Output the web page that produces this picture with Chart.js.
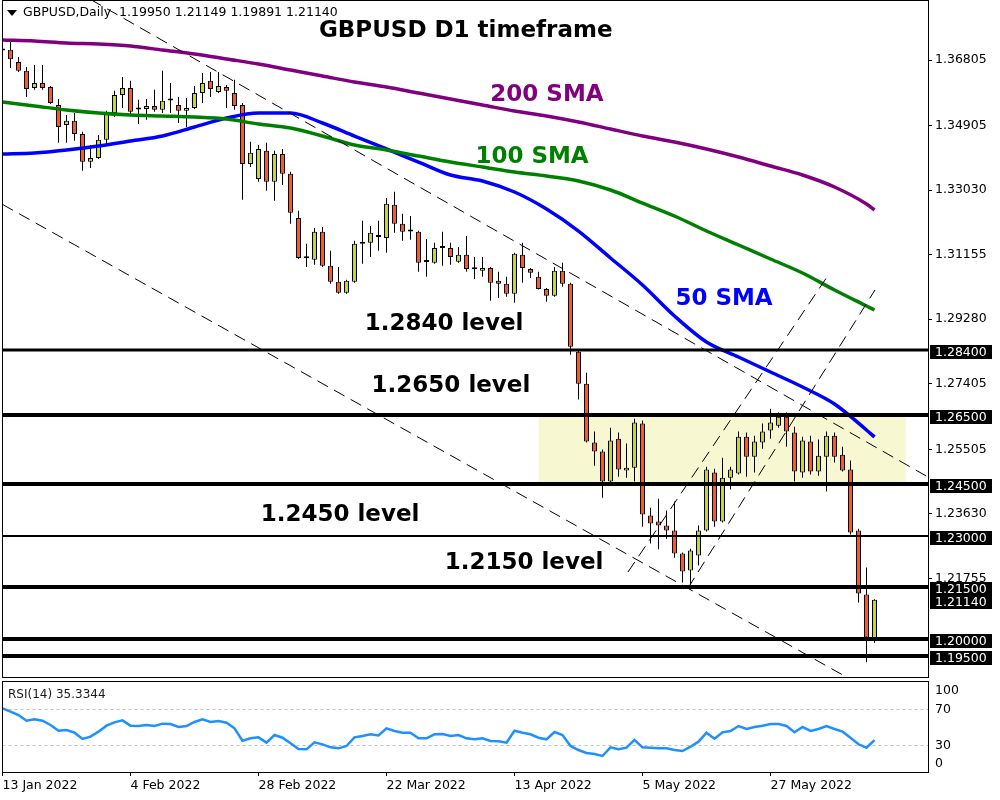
<!DOCTYPE html>
<html>
<head>
<meta charset="utf-8">
<script src="https://cdn.jsdelivr.net/npm/chart.js@4.4.1/dist/chart.umd.min.js"></script>
<style>
  html, body { margin: 0; padding: 0; background: #fff; }
  #wrap { position: relative; width: 1000px; height: 800px; background: #fff; }
  #main { position: absolute; left: 0; top: 0; }
  #rsi { position: absolute; left: 0; top: 680px; }
</style>
</head>
<body>
<div id="wrap">
  <canvas id="main" width="1000" height="680"></canvas>
  <canvas id="rsi" width="1000" height="120"></canvas>
</div>
<script>
// daily GBPUSD candles, bar 0 = 13 Jan 2022
var open = [
  1.3712,1.3710,1.3675,1.3649,1.3599,1.3614,1.3602,1.3550,1.3492,1.3504,
  1.3466,1.3385,1.3396,1.3449,1.3527,1.3579,1.3599,1.3538,1.3538,1.3547,
  1.3536,1.3565,1.3550,1.3533,1.3541,1.3585,1.3620,1.3588,1.3602,1.3585,
  1.3550,1.3379,1.3335,1.3417,1.3327,1.3408,1.3350,1.3222,1.3106,1.3101,
  1.3182,1.3083,1.3037,1.3005,1.3037,1.3147,1.3150,1.3167,1.3164,1.3260,
  1.3205,1.3185,1.3182,1.3095,1.3092,1.3135,1.3135,1.3095,1.3115,1.3074,
  1.3069,1.3077,1.3040,1.3031,1.3002,1.3115,1.3074,1.3051,1.3016,1.2996,
  1.3069,1.3031,1.2834,1.2741,1.2570,1.2544,1.2457,1.2581,1.2489,1.2497,
  1.2625,1.2358,1.2341,1.2329,1.2315,1.2248,1.2199,1.2242,1.2315,1.2483,
  1.2341,1.2468,1.2480,1.2587,1.2529,1.2570,1.2605,1.2619,1.2645,1.2599,
  1.2483,1.2573,1.2486,1.2529,1.2590,1.2535,1.2492,1.2315,1.2129,1.19950
];
var high = [
  1.3738,1.3739,1.3689,1.3660,1.3666,1.3666,1.3605,1.3567,1.3521,1.3527,
  1.3472,1.3434,1.3463,1.3533,1.3591,1.3631,1.3620,1.3565,1.3567,1.3594,
  1.3649,1.3614,1.3573,1.3570,1.3605,1.3643,1.3646,1.3646,1.3608,1.3623,
  1.3556,1.3443,1.3434,1.3440,1.3417,1.3422,1.3356,1.3243,1.3147,1.3193,
  1.3196,1.3127,1.3080,1.3043,1.3156,1.3214,1.3199,1.3214,1.3280,1.3298,
  1.3234,1.3228,1.3185,1.3161,1.3150,1.3182,1.3150,1.3138,1.3170,1.3109,
  1.3109,1.3080,1.3066,1.3051,1.3121,1.3150,1.3077,1.3066,1.3019,1.3080,
  1.3092,1.3034,1.2840,1.2773,1.2602,1.2550,1.2613,1.2599,1.2567,1.2639,
  1.2634,1.2381,1.2407,1.2373,1.2399,1.2251,1.2262,1.2329,1.2500,1.2494,
  1.2526,1.2500,1.2602,1.2599,1.2590,1.2625,1.2668,1.2657,1.2657,1.2616,
  1.2587,1.2590,1.2579,1.2602,1.2599,1.2558,1.2518,1.2320,1.2207,1.21149
];
var low = [
  1.3698,1.3657,1.3646,1.3573,1.3594,1.3594,1.3553,1.3440,1.3440,1.3446,
  1.3359,1.3367,1.3393,1.3437,1.3515,1.3541,1.3521,1.3495,1.3507,1.3530,
  1.3527,1.3527,1.3498,1.3486,1.3538,1.3556,1.3573,1.3585,1.3541,1.3536,
  1.3275,1.3370,1.3327,1.3301,1.3272,1.3318,1.3205,1.3103,1.3080,1.3086,
  1.3080,1.3031,1.3002,1.3002,1.3034,1.3089,1.3109,1.3127,1.3121,1.3179,
  1.3156,1.3159,1.3066,1.3051,1.3089,1.3083,1.3086,1.3092,1.3066,1.3045,
  1.3051,1.2982,1.2990,1.2993,1.2976,1.3034,1.3048,1.3014,1.2979,1.2993,
  1.3022,1.2825,1.2695,1.2570,1.2503,1.2410,1.2454,1.2471,1.2468,1.2457,
  1.2326,1.2277,1.2260,1.2291,1.2236,1.2164,1.2158,1.2213,1.2312,1.2326,
  1.2338,1.2434,1.2477,1.2471,1.2483,1.2552,1.2581,1.2613,1.2558,1.2457,
  1.2468,1.2477,1.2474,1.2428,1.2512,1.2486,1.2303,1.2106,1.1932,1.19891
];
var close = [
  1.3708,1.3683,1.3649,1.3596,1.3614,1.3599,1.3556,1.3486,1.3504,1.3466,
  1.3385,1.3396,1.3449,1.3527,1.3579,1.3599,1.3530,1.3537,1.3547,1.3536,
  1.3562,1.3563,1.3533,1.3541,1.3585,1.3614,1.3596,1.3605,1.3591,1.3547,
  1.3379,1.3411,1.3422,1.3327,1.3408,1.3350,1.3237,1.3106,1.3105,1.3182,
  1.3083,1.3037,1.3005,1.3040,1.3147,1.3153,1.3179,1.3169,1.3263,1.3205,
  1.3182,1.3183,1.3092,1.3094,1.3135,1.3137,1.3109,1.3115,1.3074,1.3073,
  1.3077,1.3034,1.3031,1.3002,1.3118,1.3077,1.3063,1.3016,1.2996,1.3069,
  1.3031,1.2848,1.2741,1.2573,1.2544,1.2457,1.2576,1.2492,1.2497,1.2628,
  1.2361,1.2335,1.2329,1.2315,1.2248,1.2196,1.2257,1.2315,1.2492,1.2341,
  1.2468,1.2492,1.2587,1.2529,1.2573,1.2602,1.2628,1.2645,1.2602,1.2486,
  1.2576,1.2486,1.2532,1.2590,1.2529,1.2489,1.2309,1.2132,1.2004,1.21140
];

// moving averages, read every 4 bars
var smaIdx = [0,4,8,12,16,20,24,28,32,36,40,44,48,52,56,60,64,68,72,76,80,84,88,92,96,100,104,108,109];
var sma200 = [1.37386,1.37357,1.37298,1.37269,1.37211,1.37095,1.36979,1.36834,1.36689,1.36515,
              1.36341,1.36166,1.36021,1.35847,1.35673,1.35499,1.35324,1.35179,1.35005,1.34802,
              1.34599,1.34425,1.34222,1.33989,1.33728,1.33467,1.33118,1.32625,1.32451];
var sma100 = [1.35586,1.35470,1.35354,1.35267,1.35209,1.35180,1.35150,1.35092,1.34947,1.34831,
              1.34599,1.34338,1.34193,1.34018,1.33844,1.33699,1.33554,1.33438,1.33293,1.33031,
              1.32654,1.32277,1.31841,1.31435,1.31029,1.30622,1.30129,1.29664,1.29548];
var sma50  = [1.34076,1.34105,1.34192,1.34309,1.34454,1.34599,1.34860,1.35121,1.35267,1.35267,
              1.34976,1.34599,1.34222,1.33844,1.33467,1.33293,1.32973,1.32480,1.31841,1.31058,
              1.30274,1.29374,1.28619,1.28184,1.27748,1.27313,1.26820,1.26065,1.25862];

var rsi = [
  70.8,67.0,63.3,57.0,58.5,57.0,52.2,45.9,46.7,43.7,
  36.7,39.3,44.8,51.5,55.2,57.4,51.5,51.1,52.2,51.1,
  53.7,53.3,50.0,51.1,55.6,58.5,55.6,56.7,54.8,48.5,
  34.8,37.4,38.5,32.6,41.1,38.1,31.9,25.6,25.2,33.0,
  30.7,27.4,26.3,28.9,38.5,40.0,41.9,40.7,48.5,45.6,
  43.7,43.7,37.4,37.4,41.9,42.2,40.0,41.1,37.4,36.3,
  37.4,34.4,34.1,32.6,45.9,43.7,41.9,38.1,36.3,44.4,
  41.1,28.9,24.4,21.1,20.0,17.8,27.4,25.2,27.0,35.6,
  27.4,27.0,26.3,26.3,24.4,23.3,28.1,33.7,43.7,37.0,
  44.1,45.6,51.1,47.8,50.0,51.5,53.3,53.3,51.1,44.1,
  50.0,45.6,47.8,51.1,47.8,44.8,38.1,30.8,27.0,35.3344
];
var rsiTicks = [100, 70, 30, 0];
var rsiLevels = [70, 30];

var dateIdx = [0, 16, 32, 48, 64, 80, 96];
var dateLabels = ['13 Jan 2022','4 Feb 2022','28 Feb 2022','22 Mar 2022','13 Apr 2022','5 May 2022','27 May 2022'];
var priceTicks = [1.36805, 1.34905, 1.33030, 1.31155, 1.29280, 1.27405, 1.25505, 1.23630, 1.21755];

// drawn levels and objects
var levels = [1.2840, 1.2650, 1.2450, 1.2300, 1.2150, 1.2000, 1.1950];
var levelWidth = [3, 4, 4, 2, 4, 4, 4];
var zone = { from: 67, to: 112.9, top: 1.2650, bottom: 1.2450 };
var trendLines = [
  [[8.94, 1.38837], [115.69, 1.24700]],
  [[0, 1.32613], [115.69, 1.17568]],
  [[78.19, 1.21943], [103.06, 1.30506]],
  [[85.69, 1.21478], [109.06, 1.30129]]
];
var notes = [
  { text: 'GBPUSD D1 timeframe', x: 57.9, y: 1.37647, color: '#000000' },
  { text: '200 SMA', x: 68.06, y: 1.35789, color: '#800080' },
  { text: '100 SMA', x: 66.19, y: 1.33989, color: '#008000' },
  { text: '50 SMA', x: 90.19, y: 1.29867, color: '#0000ff' },
  { text: '1.2840 level', x: 55.19, y: 1.29142, color: '#000000' },
  { text: '1.2650 level', x: 56.06, y: 1.27342, color: '#000000' },
  { text: '1.2450 level', x: 42.19, y: 1.23597, color: '#000000' },
  { text: '1.2150 level', x: 65.19, y: 1.22204, color: '#000000' }
];

var X_MAX = 115.6875;
var Y_MIN = 1.18895, Y_MAX = 1.38518;
var bull = '#c6d637', bear = '#f25c27';
var axisFont = { family: 'DejaVu Sans', size: 12.5 };

var last = open.length - 1;
var bodies = open.map(function(o, i) { return { x: i, y: [o, close[i]] }; });
var wicks = open.map(function(o, i) { return { x: i, y: [low[i], high[i]] }; });
function pts(idx, vals) { return idx.map(function(x, k) { return { x: x, y: vals[k] }; }); }

// keep the plot area where we put it, labels may hang over
function noPad(s) { s.paddingTop = 0; s.paddingBottom = 0; s.paddingLeft = 0; s.paddingRight = 0; }

function priceBox(ctx, yScale, v) {
  var yy = Math.round(yScale.getPixelForValue(v)) + 2;
  ctx.fillStyle = '#000';
  ctx.fillRect(930, yy - 7, 62, 14);
  ctx.fillStyle = '#fff';
  ctx.fillText(v.toFixed(5), 935, yy + 0.5);
}

var mainOverlay = {
  id: 'mainOverlay',
  beforeDatasetsDraw: function(chart) {
    var ctx = chart.ctx, x = chart.scales.x, y = chart.scales.y;
    var x0 = x.getPixelForValue(zone.from), x1 = x.getPixelForValue(zone.to);
    var y0 = y.getPixelForValue(zone.top), y1 = y.getPixelForValue(zone.bottom);
    ctx.save();
    ctx.fillStyle = '#f7f7d2';
    ctx.fillRect(x0, y0, x1 - x0, y1 - y0);
    ctx.restore();
  },
  afterDatasetsDraw: function(chart) {
    var ctx = chart.ctx, a = chart.chartArea, x = chart.scales.x, y = chart.scales.y;
    ctx.save();
    ctx.beginPath();
    ctx.rect(a.left, a.top, a.right - a.left, a.bottom - a.top);
    ctx.clip();

    // dashed trend lines
    ctx.strokeStyle = '#000';
    ctx.lineWidth = 1;
    ctx.setLineDash([12, 7]);
    trendLines.forEach(function(l) {
      ctx.beginPath();
      ctx.moveTo(x.getPixelForValue(l[0][0]), y.getPixelForValue(l[0][1]));
      ctx.lineTo(x.getPixelForValue(l[1][0]), y.getPixelForValue(l[1][1]));
      ctx.stroke();
    });
    ctx.setLineDash([]);

    // horizontal levels
    levels.forEach(function(v, k) {
      var yy = Math.round(y.getPixelForValue(v));
      ctx.lineWidth = levelWidth[k];
      ctx.beginPath();
      ctx.moveTo(a.left, yy);
      ctx.lineTo(a.right, yy);
      ctx.stroke();
    });

    // labels
    ctx.font = 'bold 23px "DejaVu Sans"';
    ctx.textAlign = 'center';
    ctx.textBaseline = 'middle';
    notes.forEach(function(n) {
      ctx.fillStyle = n.color;
      ctx.fillText(n.text, x.getPixelForValue(n.x), y.getPixelForValue(n.y));
    });

    // header line
    ctx.fillStyle = '#000';
    ctx.beginPath();
    ctx.moveTo(7, 10); ctx.lineTo(17, 10); ctx.lineTo(12, 16); ctx.closePath();
    ctx.fill();
    ctx.font = '12.5px "DejaVu Sans"';
    ctx.textAlign = 'left';
    ctx.fillText('GBPUSD,Daily  ' + [open[last], high[last], low[last], close[last]].map(function(v) { return v.toFixed(5); }).join(' '), 23, 13);
    ctx.restore();

    // frame
    ctx.save();
    ctx.strokeStyle = '#000';
    ctx.lineWidth = 1;
    ctx.strokeRect(2.5, 0.5, 926, 677);
    ctx.restore();
  },
  afterDraw: function(chart) {
    var ctx = chart.ctx, y = chart.scales.y;
    ctx.save();
    ctx.font = '12.5px "DejaVu Sans"';
    ctx.textAlign = 'left';
    ctx.textBaseline = 'middle';
    priceBox(ctx, y, close[last]);
    levels.forEach(function(v) { priceBox(ctx, y, v); });
    ctx.restore();
  }
};

new Chart(document.getElementById('main'), {
  type: 'bar',
  data: {
    datasets: [
      { type: 'line', data: pts(smaIdx, sma200), borderColor: '#800080', borderWidth: 3.5, pointRadius: 0, cubicInterpolationMode: 'monotone', order: 0 },
      { type: 'line', data: pts(smaIdx, sma100), borderColor: '#008000', borderWidth: 3.5, pointRadius: 0, cubicInterpolationMode: 'monotone', order: 0 },
      { type: 'line', data: pts(smaIdx, sma50), borderColor: '#0000ff', borderWidth: 3.5, pointRadius: 0, cubicInterpolationMode: 'monotone', order: 0 },
      {
        type: 'bar', data: bodies, grouped: false, barThickness: 5, minBarLength: 2,
        borderWidth: 1, borderColor: '#000', borderSkipped: false, inflateAmount: 0,
        backgroundColor: function(c) { var r = c.raw; return r && r.y[1] >= r.y[0] ? bull : bear; },
        order: 1
      },
      { type: 'bar', data: wicks, grouped: false, barThickness: 1, borderWidth: 0, inflateAmount: 0, backgroundColor: '#000', order: 2 }
    ]
  },
  options: {
    responsive: false,
    animation: false,
    layout: { padding: { left: 2.5, top: 1, right: 0, bottom: 3 } },
    plugins: { legend: { display: false }, tooltip: { enabled: false } },
    scales: {
      x: { type: 'linear', min: 0, max: X_MAX, display: false, offset: false },
      y: {
        position: 'right', min: Y_MIN, max: Y_MAX,
        afterFit: function(s) { s.width = 72; noPad(s); },
        afterBuildTicks: function(s) { s.ticks = priceTicks.map(function(v) { return { value: v }; }); },
        ticks: { callback: function(v) { return v.toFixed(5); }, color: '#000', font: axisFont, padding: 3, autoSkip: false },
        grid: { drawOnChartArea: false, drawTicks: true, tickLength: 4, color: '#000' },
        border: { display: false }
      }
    }
  },
  plugins: [mainOverlay]
});

var rsiOverlay = {
  id: 'rsiOverlay',
  beforeDatasetsDraw: function(chart) {
    var ctx = chart.ctx, a = chart.chartArea, y = chart.scales.y;
    ctx.save();
    ctx.strokeStyle = '#c0c0c0';
    ctx.lineWidth = 1;
    ctx.setLineDash([3, 3]);
    rsiLevels.forEach(function(v) {
      var yy = Math.round(y.getPixelForValue(v)) + 0.5;
      ctx.beginPath();
      ctx.moveTo(a.left, yy);
      ctx.lineTo(a.right, yy);
      ctx.stroke();
    });
    ctx.restore();
  },
  afterDraw: function(chart) {
    var ctx = chart.ctx, a = chart.chartArea, y = chart.scales.y;
    ctx.save();
    ctx.strokeStyle = '#000';
    ctx.lineWidth = 1;
    ctx.strokeRect(2.5, 1.5, 926, 91);
    ctx.font = '12.5px "DejaVu Sans"';
    ctx.textBaseline = 'middle';
    ctx.textAlign = 'left';
    ctx.fillStyle = '#000';
    rsiTicks.forEach(function(v) {
      var yy = Math.min(Math.max(y.getPixelForValue(v) + 1, a.top + 9), a.bottom - 8);
      ctx.fillText(String(v), 935, yy);
    });
    ctx.fillStyle = '#1a1a1a';
    ctx.font = '12px "DejaVu Sans"';
    ctx.fillText('RSI(14) ' + rsi[rsi.length - 1].toFixed(4), 8, 15);
    ctx.restore();
  }
};

new Chart(document.getElementById('rsi'), {
  type: 'line',
  data: {
    datasets: [{ data: pts(rsi.map(function(v, i) { return i; }), rsi), borderColor: '#1e90ff', borderWidth: 2.5, pointRadius: 0, tension: 0 }]
  },
  options: {
    responsive: false,
    animation: false,
    layout: { padding: { left: 2.5, top: 2, right: 0, bottom: 0 } },
    plugins: { legend: { display: false }, tooltip: { enabled: false } },
    scales: {
      x: {
        type: 'linear', min: 0, max: X_MAX,
        afterFit: function(s) { s.height = 28; noPad(s); },
        afterBuildTicks: function(s) { s.ticks = dateIdx.map(function(v) { return { value: v }; }); },
        ticks: { callback: function(v, i) { return dateLabels[i]; }, align: 'start', maxRotation: 0, autoSkip: false, color: '#000', font: axisFont, padding: 2 },
        grid: { drawOnChartArea: false, drawTicks: true, tickLength: 4, color: '#000' },
        border: { display: false }
      },
      y: {
        position: 'right', min: 0, max: 100,
        afterFit: function(s) { s.width = 72; noPad(s); },
        ticks: { display: false },
        grid: { display: false },
        border: { display: false }
      }
    }
  },
  plugins: [rsiOverlay]
});
</script>
</body>
</html>
